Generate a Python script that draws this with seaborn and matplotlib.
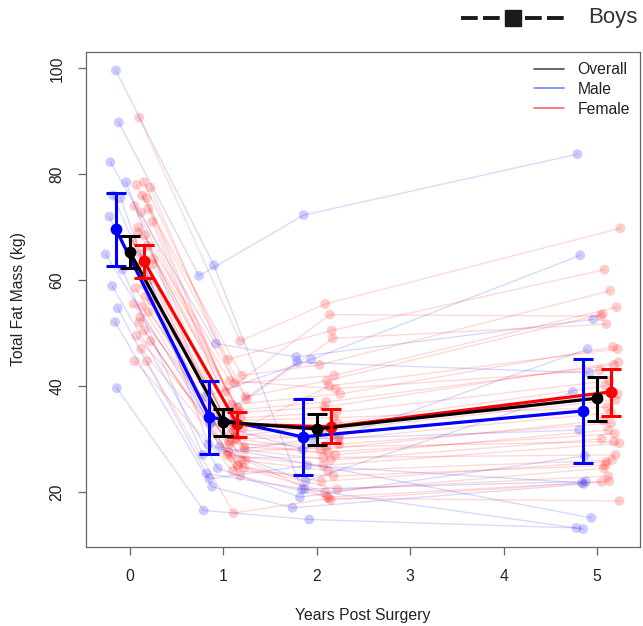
import numpy as np
import pandas as pd
import matplotlib
matplotlib.use("Agg")
import matplotlib.pyplot as plt
import seaborn as sns
from matplotlib.lines import Line2D

nan = np.nan
times = [0, 1, 2, 5]

# individual trajectories (kg) at years 0, 1, 2, 5
male_t0 = [99.6, 89.8, 82.3, 78.5, 76.0, 75.5, 64.9, 62.0, 58.9, 54.7, 52.1, 39.6, 72.0, nan]
male_t1 = [62.8, 60.8, 48.0, 38.0, 33.0, 29.0, 33.0, 27.0, 24.5, 22.5, 21.0, 16.5, 28.5, 23.5]
male_t2 = [20.5, 72.3, 45.5, 45.0, 28.0, 22.0, 44.5, 30.0, 19.0, 25.0, 17.0, 14.8, nan, 20.5]
male_t5 = [22.0, 83.8, 52.6, 64.7, 47.0, 38.9, 42.5, 31.7, 26.8, 21.7, 21.5, 13.2, 15.1, 13.0]

female_t0 = [90.7, 78.5, 78.0, 77.5, 76.0, 75.5, 74.0, 73.5, 72.8, 71.0, 70.0, 68.5, 67.5, 66.5, 65.0, 64.0,
             62.5, 61.0, 60.0, 58.5, 57.0, 56.0, 55.5, 55.0, 54.0, 52.0, 50.5, 49.5, 48.5, 47.0, 44.7, 44.7,
             63.0, 69.0, 59.0, 53.0]
female_t1 = [48.5, 45.0, 42.0, 40.5, 38.0, 36.5, 35.0, 39.0, 34.0, 33.0, 37.5, 31.0, 30.0, 32.0, 29.5, 35.5,
             28.0, 27.0, 30.5, 26.0, 33.5, 25.0, 29.0, 24.5, 31.5, 23.0, 27.5, 26.0, 26.5, 25.0, 16.0, 24.0,
             36.0, 41.0, 28.5, 30.0]
female_t2 = [55.5, 50.5, 44.0, 42.0, 41.0, 38.5, 36.0, 53.5, 35.0, 31.5, 49.0, 30.0, 28.0, 40.0, 27.0, 37.0,
             26.0, 25.0, 33.0, 24.0, 34.0, 22.0, 29.0, 20.0, 32.0, 19.0, 28.5, 18.5, 26.5, 20.5, 18.8, 23.0,
             nan, 39.5, 27.5, 30.5]
female_t5 = [69.8, 62.0, 58.0, 54.9, 53.6, 47.4, 44.5, 53.2, 41.0, 37.4, 51.7, 35.0, 33.5, 47.0, 31.7, 44.0,
             30.0, 29.2, 40.0, 26.0, 36.0, 25.7, 33.0, 24.5, 38.5, 22.0, 29.5, 21.9, 27.0, 23.0, 18.3, 25.0,
             nan, 43.0, 31.0, nan]

male_jitter = [-0.15, -0.12, -0.21, -0.04, -0.18, -0.10, -0.26, -0.08, -0.19, -0.13, -0.16, -0.14, -0.22, -0.06]
female_jitter = [0.10, 0.15, 0.07, 0.22, 0.13, 0.18, 0.05, 0.20, 0.12, 0.24, 0.09, 0.16, 0.03, 0.19, 0.11, 0.25,
                 0.08, 0.14, 0.21, 0.06, 0.17, 0.23, 0.04, 0.13, 0.20, 0.10, 0.15, 0.07, 0.22, 0.12, 0.18, 0.05,
                 0.24, 0.09, 0.16, 0.11]

# group summaries (mean, lower, upper)
male_mean = [69.6, 34.2, 30.4, 35.3]
male_lo = [62.6, 27.2, 23.2, 25.5]
male_hi = [76.4, 40.9, 37.5, 45.1]
overall_mean = [65.3, 33.2, 31.9, 37.7]
overall_lo = [62.3, 30.6, 28.9, 33.4]
overall_hi = [68.3, 35.7, 34.7, 41.7]
female_mean = [63.6, 32.8, 32.3, 38.9]
female_lo = [60.4, 30.4, 29.2, 34.3]
female_hi = [66.6, 35.1, 35.7, 43.2]

legend_labels = ["Overall", "Male", "Female"]


def long_df(cols, jitter, prefix):
    rows = []
    n = len(jitter)
    for i in range(len(cols[0])):
        for k, t in enumerate(times):
            v = cols[k][i]
            if not np.isnan(v):
                rows.append(dict(subject=f"{prefix}{i}", time=t,
                                 x=t + jitter[(i + 5 * k) % n], fat=v))
    return pd.DataFrame(rows)


dm = long_df([male_t0, male_t1, male_t2, male_t5], male_jitter, "m")
dfe = long_df([female_t0, female_t1, female_t2, female_t5], female_jitter, "f")

sns.set_style("white")
plt.rcParams["font.family"] = ["Liberation Sans", "DejaVu Sans"]

W, H = 643, 626
fig = plt.figure(figsize=(W / 100, H / 100), dpi=100)
ax = fig.add_axes([86 / W, 1 - 547 / H, (640 - 86) / W, (547 - 52) / H])

BLUE, RED = "#0000FF", "#FF0000"

for d, c in [(dm, BLUE), (dfe, RED)]:
    sns.lineplot(data=d, x="x", y="fat", units="subject", estimator=None, sort=False,
                 color=c, alpha=0.15, lw=1.0, ax=ax, legend=False)
    sns.scatterplot(data=d, x="x", y="fat", color=c, alpha=0.2, s=50,
                    edgecolor="none", ax=ax, legend=False)

groups = [
    (male_mean, male_lo, male_hi, BLUE, -0.15),
    (female_mean, female_lo, female_hi, RED, 0.15),
    (overall_mean, overall_lo, overall_hi, "black", 0.0),
]
for mean, lo, hi, c, off in groups:
    g = pd.DataFrame(dict(x=[t + off for t in times], m=mean, lo=lo, hi=hi))
    sns.lineplot(data=g, x="x", y="m", color=c, lw=2.3, marker="o", markersize=8.5,
                 markeredgewidth=0, ax=ax, legend=False, sort=False)
    ax.errorbar(g["x"], g["m"], yerr=[g["m"] - g["lo"], g["hi"] - g["m"]], fmt="none",
                ecolor=c, elinewidth=2.2, capsize=7.2, capthick=2.2, zorder=5)

ax.set_xlim(-0.47, 5.46)
ax.set_ylim(9.6, 103.1)
ax.set_xticks(range(0, 6))
ax.set_yticks([20, 40, 60, 80, 100])
ax.set_yticklabels(["20", "40", "60", "80", "100"], rotation=90, va="center")
ax.tick_params(direction="out", length=6, width=0.9, color="#666666", pad=9.5,
               labelsize=11.3, labelcolor="#222222", left=True, bottom=True)
for s in ax.spines.values():
    s.set_color("#666666")
    s.set_linewidth(0.9)

ax.set_xlabel("Years Post Surgery", fontsize=11.3, color="#222222")
ax.set_ylabel("Total Fat Mass (kg)", fontsize=11.3, color="#222222")
ax.xaxis.set_label_coords(0.5, -0.123)
ax.yaxis.label.set_verticalalignment("center")
ax.yaxis.set_label_coords(-0.1227, 0.5)

handles = [Line2D([], [], color="black", lw=1.2, alpha=0.7),
           Line2D([], [], color=BLUE, lw=1.2, alpha=0.5),
           Line2D([], [], color=RED, lw=1.2, alpha=0.6)]
ax.legend(handles, legend_labels, loc="upper right", frameon=False, fontsize=11.3,
          handlelength=1.9, handletextpad=0.85, labelspacing=0.3, borderpad=0.5,
          borderaxespad=0.15, labelcolor="#222222")

# partial "Boys" legend at the top
yb = 1 - 18 / H
dash_kw = dict(transform=fig.transFigure, color="#1a1a1a", lw=2.8, dashes=(4.3, 1.35),
               solid_capstyle="butt", dash_capstyle="butt")
fig.add_artist(Line2D([461 / W, 500 / W], [yb, yb], **dash_kw))
fig.add_artist(Line2D([525 / W, 564 / W], [yb, yb], **dash_kw))
fig.add_artist(Line2D([513 / W], [yb], transform=fig.transFigure, color="#1a1a1a",
                      marker="s", markersize=11.5, lw=0))
fig.text(588 / W, yb, "Boys", fontsize=16, color="#333333", va="center", ha="left")

fig.savefig("out.png", dpi=100)
